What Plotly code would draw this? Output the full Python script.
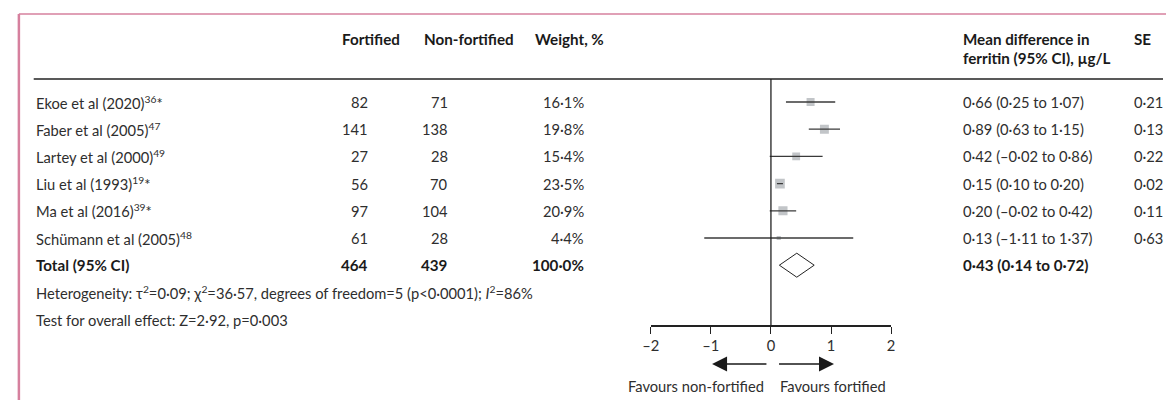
import math
import plotly.graph_objects as go

# ---------------- data ----------------
studies = ["Ekoe et al (2020)<sup>36</sup>*", "Faber et al (2005)<sup>47</sup>",
           "Lartey et al (2000)<sup>49</sup>", "Liu et al (1993)<sup>19</sup>*",
           "Ma et al (2016)<sup>39</sup>*", "Schümann et al (2005)<sup>48</sup>"]
n_fortified = [82, 141, 27, 56, 97, 61]
n_nonfortified = [71, 138, 28, 70, 104, 28]
weights = [16.1, 19.8, 15.4, 23.5, 20.9, 4.4]
md = [0.66, 0.89, 0.42, 0.15, 0.20, 0.13]
ci_low = [0.25, 0.63, -0.02, 0.10, -0.02, -1.11]
ci_high = [1.07, 1.15, 0.86, 0.20, 0.42, 1.37]
se = [0.21, 0.13, 0.22, 0.02, 0.11, 0.63]
total_fortified = 464
total_nonfortified = 439
total_weight = 100.0
total_md = 0.43
total_low = 0.14
total_high = 0.72
tick_vals = [-2, -1, 0, 1, 2]

# ---------------- helpers ----------------
W, H = 1170, 400
ROW0, ROWH = 102, 27.2


def py(p):
    return (p - ROW0) / ROWH


def px(p):
    return p / W


def fmt(v, d=2):
    s = f"{abs(v):.{d}f}".replace(".", "·")
    return ("–" if v < 0 else "") + s


FONT = "Lato, 'Open Sans', sans-serif"
TXT = "#2e2e2e"
BOLD = "#1a1a1a"
FS = 14.7
FSB = 15.2

fig = go.Figure()

rows = list(range(len(studies)))
total_row = len(studies)

# squares (drawn first so CI line sits on top)
fig.add_trace(go.Scatter(
    x=md, y=rows, mode="markers",
    marker=dict(symbol="square", size=[2 * math.sqrt(w) for w in weights],
                color="#a8acb0", line=dict(width=0)),
    hoverinfo="skip", showlegend=False))

# CI lines
lx, ly = [], []
for lo, hi, r in zip(ci_low, ci_high, rows):
    lx += [lo, hi, None]
    ly += [r, r, None]
fig.add_trace(go.Scatter(x=lx, y=ly, mode="lines",
                         line=dict(color="#3a3a3a", width=1.3),
                         hoverinfo="skip", showlegend=False))

# diamond
dh = 12 / ROWH
fig.add_trace(go.Scatter(
    x=[total_low, total_md, total_high, total_md, total_low],
    y=[total_row, total_row - dh, total_row, total_row + dh, total_row],
    mode="lines", fill="toself", fillcolor="white",
    line=dict(color="#222222", width=1), hoverinfo="skip", showlegend=False))

ann = []


def add(text, x, y, anchor="left", bold=False):
    ann.append(dict(text=f"<b>{text}</b>" if bold else text, x=px(x), y=y,
                    xref="paper", yref="y", xanchor=anchor, yanchor="middle",
                    showarrow=False,
                    font=dict(family=FONT, size=FSB if bold else FS,
                              color=BOLD if bold else TXT)))


# header
hy1, hy2 = py(39), py(58)
add("Fortified", 366, hy1, "center", True)
add("Non-fortified", 465, hy1, "center", True)
add("Weight, %", 530, hy1, "left", True)
add("Mean difference in", 963, hy1, "left", True)
add("ferritin (95% CI), µg/L", 963, hy2, "left", True)
add("SE", 1136, hy1, "left", True)

# rows
for i, r in enumerate(rows):
    add(studies[i], 25, r)
    add(str(n_fortified[i]), 365, r, "right")
    add(str(n_nonfortified[i]), 446, r, "right")
    add(f"{fmt(weights[i], 1)}%", 583, r, "right")
    add(f"{fmt(md[i])} ({fmt(ci_low[i])} to {fmt(ci_high[i])})", 963, r)
    add(fmt(se[i]), 1136, r)

add("Total (95% CI)", 25, total_row, bold=True)
add(str(total_fortified), 365, total_row, "right", True)
add(str(total_nonfortified), 446, total_row, "right", True)
add(f"{fmt(total_weight, 1)}%", 583, total_row, "right", True)
add(f"{fmt(total_md)} ({fmt(total_low)} to {fmt(total_high)})", 963, total_row, bold=True)

add("Heterogeneity: τ<sup>2</sup>=0·09; χ<sup>2</sup>=36·57, degrees of freedom=5 (p<0·0001); <i>I</i><sup>2</sup>=86%",
    25, total_row + 1)
add("Test for overall effect: Z=2·92, p=0·003", 25, total_row + 2)

# favours labels and arrows
ann.append(dict(text="Favours non-fortified", x=-0.08, y=py(386), xref="x", yref="y",
                xanchor="right", yanchor="middle", showarrow=False,
                font=dict(family=FONT, size=FS, color=TXT)))
ann.append(dict(text="Favours fortified", x=0.11, y=py(386), xref="x", yref="y",
                xanchor="left", yanchor="middle", showarrow=False,
                font=dict(family=FONT, size=FS, color=TXT)))
ann.append(dict(text="", x=-0.98, y=py(364), ax=-0.05, ay=py(364),
                xref="x", yref="y", axref="x", ayref="y", showarrow=True,
                arrowhead=2, arrowsize=2.0, arrowwidth=1.5, arrowcolor="#1a1a1a"))
ann.append(dict(text="", x=1.05, y=py(364), ax=0.11, ay=py(364),
                xref="x", yref="y", axref="x", ayref="y", showarrow=True,
                arrowhead=2, arrowsize=2.0, arrowwidth=1.5, arrowcolor="#1a1a1a"))

shapes = [
    # pink frame
    dict(type="line", xref="paper", yref="paper", x0=px(10), x1=1, y0=1 - 14 / H, y1=1 - 14 / H,
         line=dict(color="#d6809e", width=1.5)),
    dict(type="line", xref="paper", yref="paper", x0=px(10), x1=px(10), y0=0, y1=1 - 14 / H,
         line=dict(color="#d6809e", width=2.5)),
    # header rule
    dict(type="line", xref="paper", yref="y", x0=px(25), x1=px(1167), y0=py(79), y1=py(79),
         line=dict(color="#222222", width=1.5)),
    # null line
    dict(type="line", xref="x", yref="y", x0=0, x1=0, y0=py(79), y1=py(326),
         line=dict(color="#222222", width=1.3)),
]

fig.update_layout(
    width=W, height=H, margin=dict(l=0, r=0, t=0, b=0),
    paper_bgcolor="white", plot_bgcolor="rgba(0,0,0,0)",
    annotations=ann, shapes=shapes, showlegend=False,
    font=dict(family=FONT, size=FS, color=TXT),
    xaxis=dict(domain=[649 / W, 892 / W], range=[-2, 2], anchor="free",
               position=1 - 326 / H, showline=True, linecolor="#222222", linewidth=1.5,
               ticks="outside", ticklen=7, tickwidth=1.3, tickcolor="#222222",
               tickvals=tick_vals, ticktext=[fmt(v, 0) for v in tick_vals],
               tickfont=dict(family=FONT, size=FS, color=TXT),
               showgrid=False, zeroline=False, fixedrange=True),
    yaxis=dict(domain=[0, 1], range=[py(H), py(0)], visible=False, showgrid=False,
               zeroline=False, fixedrange=True),
)

fig.write_html("out.html", config={"displayModeBar": False},
               post_script="document.body.style.margin='0';document.body.style.overflow='hidden';")
